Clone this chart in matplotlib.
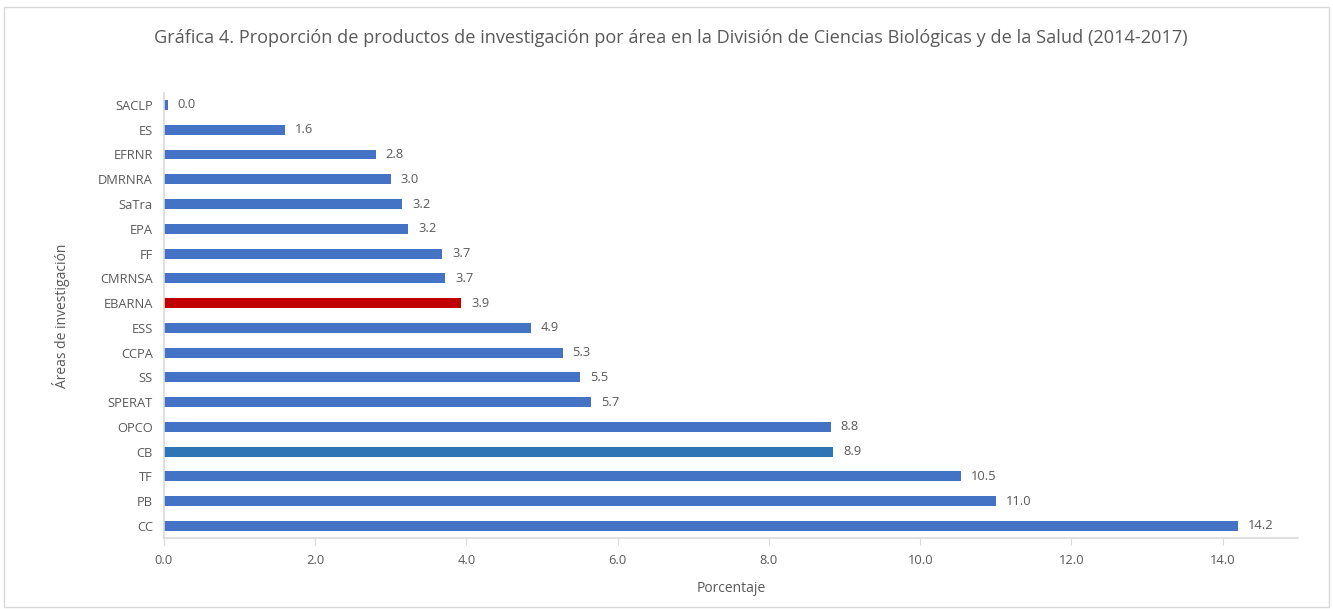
import matplotlib
matplotlib.use("Agg")
import matplotlib.pyplot as plt
from matplotlib.patches import Rectangle

categories = ["SACLP", "ES", "EFRNR", "DMRNRA", "SaTra", "EPA", "FF", "CMRNSA", "EBARNA",
              "ESS", "CCPA", "SS", "SPERAT", "OPCO", "CB", "TF", "PB", "CC"]
values = [0.05, 1.6, 2.8, 3.0, 3.15, 3.23, 3.68, 3.72, 3.93,
          4.85, 5.27, 5.5, 5.65, 8.82, 8.85, 10.54, 11.0, 14.2]
labels = ["0.0", "1.6", "2.8", "3.0", "3.2", "3.2", "3.7", "3.7", "3.9",
          "4.9", "5.3", "5.5", "5.7", "8.8", "8.9", "10.5", "11.0", "14.2"]
colors = ["#4472C4"] * 18
colors[categories.index("EBARNA")] = "#C00000"
colors[categories.index("CB")] = "#2E75B6"
xticks = [0, 2, 4, 6, 8, 10, 12, 14]

plt.rcParams['font.family'] = ['Open Sans', 'DejaVu Sans']
gray = "#595959"

fig = plt.figure(figsize=(13.33, 6.09), dpi=100)
ax = fig.add_axes([0.123, 0.116, 0.851, 0.732])

y = list(range(len(categories)))
ax.barh(y, values, height=0.4, color=colors)
ax.set_ylim(len(categories) - 0.5, -0.5)
ax.set_xlim(0, 15)
ax.set_yticks(y)
ax.set_yticklabels(categories, fontsize=9.3, color=gray)
ax.set_xticks(xticks)
ax.set_xticklabels([f"{t:.1f}" for t in xticks], fontsize=9.3, color=gray)

for yi, v, lab in zip(y, values, labels):
    ax.text(v + 0.13, yi, lab, va="center", ha="left", fontsize=9.3, color=gray)

for s in ["top", "right"]:
    ax.spines[s].set_visible(False)
for s in ["left", "bottom"]:
    ax.spines[s].set_color("#D9D9D9")
    ax.spines[s].set_linewidth(1.2)
ax.tick_params(axis="y", length=0, pad=8)
ax.tick_params(axis="x", length=5, color="#D9D9D9", pad=6, direction="out")

ax.set_xlabel("Porcentaje", fontsize=10, color=gray, labelpad=10)
ax.set_ylabel("Áreas de investigación", fontsize=10, color=gray, labelpad=20)

fig.text(0.503, 0.937, "Gráfica 4. Proporción de productos de investigación por área en la División de Ciencias Biológicas y de la Salud (2014-2017)",
         ha="center", va="center", fontsize=13.1, color=gray)

fig.patches.append(Rectangle((0.003, 0.003), 0.994, 0.985, transform=fig.transFigure,
                             fill=False, edgecolor="#D9D9D9", linewidth=1))

fig.savefig("out.png", dpi=100)
